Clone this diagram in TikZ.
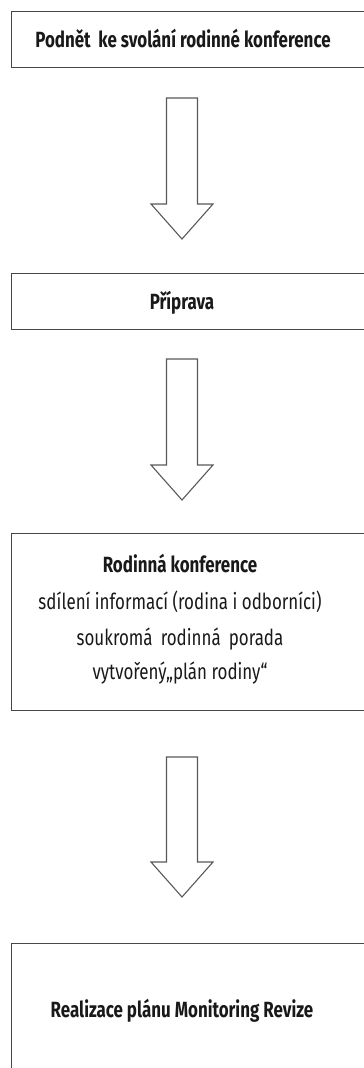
\documentclass[tikz,border=0pt]{standalone}
\usepackage{fontspec}
\setmainfont{Fira Sans}[FakeStretch=0.77]
\begin{document}
\begin{tikzpicture}[x=1pt,y=-1pt,
  box/.style={draw=black!72, line width=1.4pt, fill=white},
  blockarrow/.style={draw=black!65, line width=1.1pt, fill=white, line join=miter},
  lbl/.style={font=\fontsize{22}{26}\selectfont, text=black!90, inner sep=0pt, anchor=base},
  blbl/.style={lbl, font=\fontsize{22}{26}\selectfont\bfseries}]
\useasboundingbox (0,0) rectangle (364,1068);
% boxes
\node[box, anchor=north west, minimum width=370pt, minimum height=56pt] (b1) at (11,11) {};
\node[box, anchor=north west, minimum width=370pt, minimum height=56pt] (b2) at (11,273) {};
\node[box, anchor=north west, minimum width=370pt, minimum height=177pt] (b3) at (11,533) {};
\node[box, anchor=north west, minimum width=370pt, minimum height=150pt] (b4) at (11,943) {};
% texts
\node[blbl] (t1) at (183,47) {Podnět\, ke svolání rodinné konference};
\node[blbl] (t2) at (182,309) {Příprava};
\node[blbl] (t3a) at (180,572) {Rodinná konference};
\node[lbl] (t3b) at (180,609) {sdílení informací (rodina i odborníci)};
\node[lbl] (t3c) at (180,645) {soukromá\, rodinná\, porada};
\node[lbl] (t3d) at (180,679) {vytvořený„plán rodiny“};
\node[blbl] (t4) at (182,1017) {Realizace plánu Monitoring Revize};
% arrows
\coordinate (a1) at (182,98);
\coordinate (a2) at (182,359);
\coordinate (a3) at (182,757);
\foreach \a/\len in {a1/141, a2/141, a3/140} {
  \draw[blockarrow] (\a) ++(-15.5,0) -- ++(31,0) -- ++(0,\len-35) -- ++(15.5,0)
     -- ++(-31,35) -- ++(-31,-35) -- ++(15.5,0) -- cycle;
}
\end{tikzpicture}
\end{document}
